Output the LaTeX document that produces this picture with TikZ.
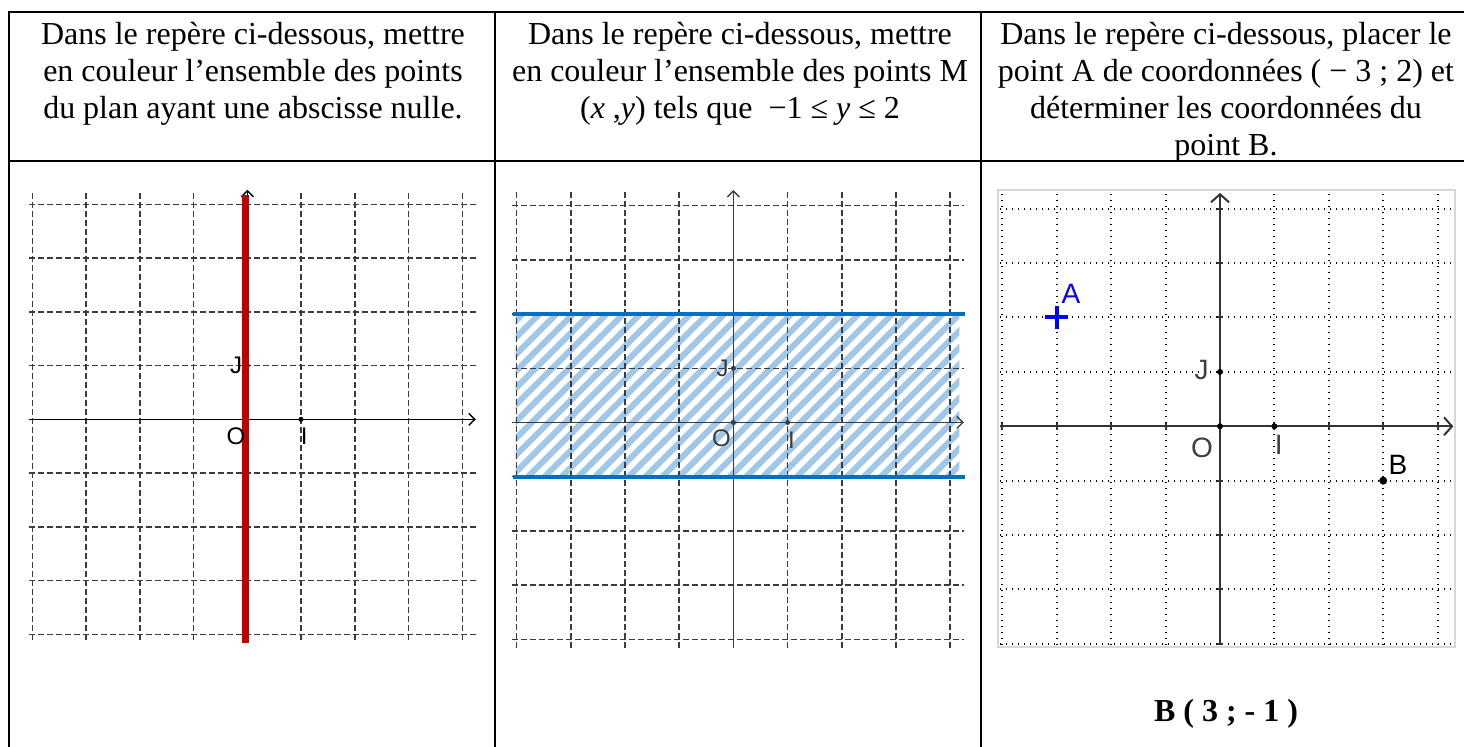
\documentclass[tikz,border=0pt]{standalone}
\usepackage{fontspec}
\setmainfont{Liberation Serif}
\newfontfamily\geofont{Liberation Sans}
\usepackage{xcolor}
\usetikzlibrary{arrows.meta}
\definecolor{gridgray}{RGB}{60,60,60}
\definecolor{darkred}{RGB}{192,0,0}
\definecolor{bandblue}{RGB}{0,112,192}
\definecolor{hatchblue}{RGB}{160,198,232}
\definecolor{framegray}{RGB}{215,215,215}

\begin{document}
\begin{tikzpicture}[x=0.5pt, y=-0.5pt,
  font=\fontsize{16}{18.5}\selectfont,
  cell/.style={anchor=north, align=center, inner sep=0pt},
  griddash/.style={gridgray, line width=0.75pt, dash pattern=on 3pt off 1.5pt},
  griddot/.style={black, line width=1pt, dash pattern=on 0.6pt off 2.4pt},
  axis/.style={-{Straight Barb[length=3pt,width=6pt]}, line width=0.7pt},
  lbl/.style={font=\geofont\fontsize{12}{14}\selectfont, inner sep=0pt},
  dot/.style={circle, fill=black, inner sep=0pt, minimum size=2.5pt}]
  \useasboundingbox (0,0) rectangle (1464,747);

  % table
  \draw[line width=1pt] (1464,12) -- (9,12) -- (9,747);
  \draw[line width=1pt] (9,161) -- (1464,161);
  \draw[line width=1pt] (495,12) -- (495,747);
  \draw[line width=1pt] (981,12) -- (981,747);

  \node[cell] (q1) at (253,22) {Dans le repère ci-dessous, mettre\\en couleur l’ensemble des points\\du plan ayant une abscisse nulle.};
  \node[cell] (q2) at (740,22) {Dans le repère ci-dessous, mettre\\en couleur l’ensemble des points M\\(\textit{x} ,\textit{y}) tels que \ −1 ≤ \textit{y} ≤ 2};
  \node[cell] (q3) at (1226,22) {Dans le repère ci-dessous, placer le\\point A de coordonnées ( − 3 ; 2) et\\déterminer les coordonnées du\\point B.};

  % repere 1 : abscisse nulle
  \begin{scope}[shift={(247.3,419.3)}, x=26.875pt, y=26.875pt]
    \foreach \i in {-4,...,4} {
      \draw[griddash] (\i,-4.1) -- (\i,4.27);
      \draw[griddash] (-4.07,\i) -- (4.25,\i);
    }
    \draw[axis] (-4.07,0) -- (4.25,0);
    \draw[axis] (0,-4.1) -- (0,4.27);
    \node[dot] (I1) at (1,0) {};
    \node[dot] (J1) at (0,1) {};
    \draw[darkred, line width=3.5pt] (-0.03,-4.16) -- (-0.03,4.17);
    \node[lbl] (o1) at (-0.21,-0.31) {O};
    \node[lbl] (i1) at (1.06,-0.31) {I};
    \node[lbl] (j1) at (-0.21,1.0) {J};
  \end{scope}

  % repere 2 : bande -1 <= y <= 2
  \begin{scope}[shift={(733.4,422.5)}, x=27.1pt, y=27.1pt]
    \begin{scope}
      \clip (-4.02,-1) rectangle (4.17,2);
      \foreach \k in {0,...,38}
        \draw[hatchblue, line width=3pt] ({-7.2+\k*0.31},-1) -- ++(3.1,3.1);
    \end{scope}
    \foreach \i in {-4,...,4} {
      \draw[griddash] (\i,-4.16) -- (\i,4.29);
      \draw[griddash] (-4.09,\i) -- (4.25,\i);
    }
    \draw[axis, gridgray] (-4.09,0) -- (4.25,0);
    \draw[axis, gridgray] (0,-4.16) -- (0,4.29);
    \node[dot, fill=gridgray] (O2) at (0,0) {};
    \node[dot, fill=gridgray] (I2) at (1,0) {};
    \node[dot, fill=gridgray] (J2) at (0,1) {};
    \draw[bandblue, line width=2pt] (-4.06,2) -- (4.27,2);
    \draw[bandblue, line width=2pt] (-4.06,-1) -- (4.27,-1);
    \node[lbl, gridgray] (o2) at (-0.22,-0.29) {O};
    \node[lbl, gridgray] (i2) at (1.07,-0.32) {I};
    \node[lbl, gridgray] (j2) at (-0.2,0.99) {J};
  \end{scope}

  % repere 3 : points A et B
  \begin{scope}[shift={(1220,426.3)}, x=27.2pt, y=27.2pt]
    \draw[framegray, line width=1pt] (-4.09,-4.06) rectangle (4.32,4.34);
    \foreach \i in {-4,...,4} {
      \draw[griddot] (\i,-4.02) -- (\i,4.31);
      \draw[griddot] (-4.04,\i) -- (4.29,\i);
    }
    \draw[-{Straight Barb[length=4pt,width=9pt]}, line width=1pt, black!80] (-4.04,0) -- (4.29,0);
    \draw[-{Straight Barb[length=4pt,width=9pt]}, line width=1pt, black!80] (0,-4.02) -- (0,4.29);
    \foreach \i in {-4,...,4} {
      \draw[line width=1pt, black!80] (\i,-0.06) -- (\i,0.06);
      \draw[line width=1pt, black!80] (-0.06,\i) -- (0.06,\i);
    }
    \node[dot, minimum size=3pt] (O3) at (0,0) {};
    \node[dot, minimum size=3pt] (I3) at (1,0) {};
    \node[dot, minimum size=3pt] (J3) at (0,1) {};
    \draw[blue, line width=2pt] (-3.21,2) -- (-2.79,2) (-3,1.79) -- (-3,2.21);
    \node[dot, minimum size=4pt] (B) at (3,-1) {};
    \node[lbl, font=\geofont\fontsize{14}{16}\selectfont, black!75] (o3) at (-0.33,-0.40) {O};
    \node[lbl, font=\geofont\fontsize{14}{16}\selectfont, black!75] (i3) at (1.08,-0.34) {I};
    \node[lbl, font=\geofont\fontsize{14}{16}\selectfont, black!75] (j3) at (-0.34,1.03) {J};
    \node[lbl, font=\geofont\fontsize{14}{16}\selectfont, blue] (a3) at (-2.74,2.44) {A};
    \node[lbl, font=\geofont\fontsize{14}{16}\selectfont] (b3) at (3.27,-0.71) {B};
  \end{scope}

  \node[font=\fontsize{16}{18.5}\selectfont\bfseries, anchor=base] (ans) at (1226,722) {B ( 3 ; - 1 )};
\end{tikzpicture}
\end{document}
